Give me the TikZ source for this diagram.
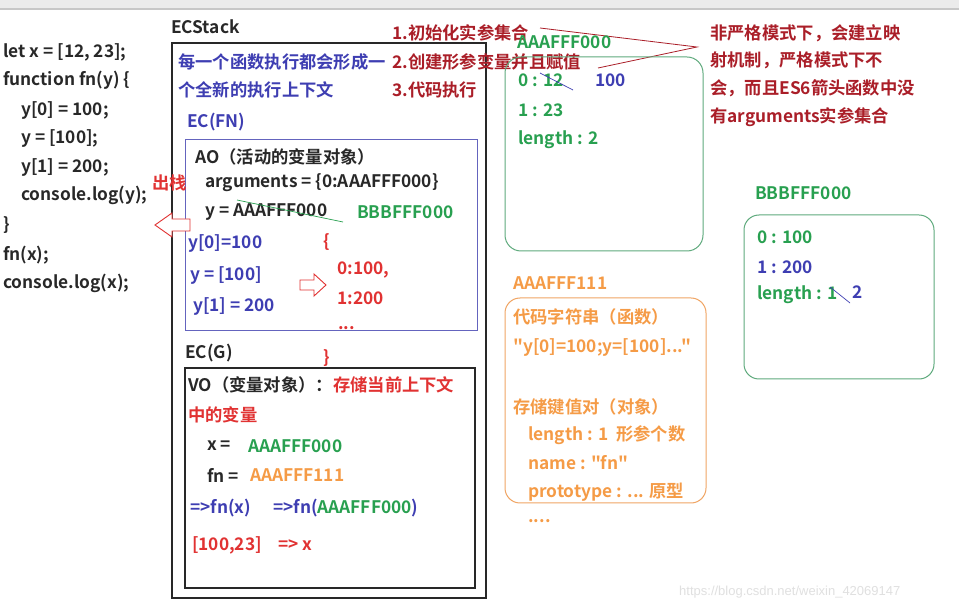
\documentclass[tikz,border=0pt]{standalone}
\usepackage{fontspec}
\newfontfamily\mainf{Noto Sans CJK SC}[BoldFont={Noto Sans CJK SC Bold}]
\newfontfamily\wmfont{Liberation Sans}
\definecolor{cblue}{RGB}{62,62,178}
\definecolor{cgreen}{RGB}{40,160,80}
\definecolor{cdred}{RGB}{170,30,40}
\definecolor{cred}{RGB}{225,50,50}
\definecolor{corange}{RGB}{245,155,70}
\definecolor{cgbox}{RGB}{95,170,125}
\definecolor{cobox}{RGB}{240,165,100}
\definecolor{caobox}{RGB}{100,100,190}
\definecolor{cdark}{RGB}{40,40,40}
\newcommand\bodyfs{\mainf\fontsize{17.3}{20}\selectfont\bfseries}
\begin{document}
\begin{tikzpicture}[x=1pt,y=-1pt,
  txt/.style={anchor=west,inner sep=0pt,font=\bodyfs,text=cdark},
  boxline/.style={draw=cdark,line width=1.1pt},
  aoline/.style={draw=caobox,line width=0.9pt},
  gbox/.style={draw=cgbox,line width=1pt,rounded corners=16pt},
  obox/.style={draw=cobox,line width=1pt,rounded corners=16pt},
  hollow/.style={draw=cred,line width=0.9pt,fill=white},
  strike/.style={line width=0.7pt}]
\useasboundingbox (0,0) rectangle (959,609);
\fill[white] (0,0) rectangle (959,609);
\fill[black!8] (0,0) rectangle (959,10);
\draw[black!22,line width=1.5pt] (0,9) -- (959,9);

% code
\node[txt] (c1) at (3,52) {let x = [12, 23];};
\node[txt] (c2) at (3,80) {function fn(y) \{};
\node[txt] (c3) at (21,110) {y[0] = 100;};
\node[txt] (c4) at (21,138) {y = [100];};
\node[txt] (c5) at (21,167) {y[1] = 200;};
\node[txt] (c6) at (21,195) {console.log(y);};
\node[txt] (c7) at (3,225) {\}};
\node[txt] (c8) at (3,255) {fn(x);};
\node[txt] (c9) at (3,283) {console.log(x);};

% ECStack
\node[txt] (ecs) at (171,27) {ECStack};
\draw[boxline] (172,43) rectangle (486,598);
\node[txt,text=cblue] (d1) at (178,62) {每一个函数执行都会形成一};
\node[txt,text=cblue] (d2) at (178,90) {个全新的执行上下文};
\node[txt,text=cblue] (ecfn) at (187,122) {EC(FN)};

% AO box
\draw[aoline] (185,139) rectangle (477,330);
\node[txt] (ao) at (195,157) {AO（活动的变量对象）};
\node[txt] (args) at (205,183) {arguments = \{0:AAAFFF000\}};
\node[txt] (yv) at (205,212) {y = AAAFFF000};
\coordinate (s1a) at (237,200);
\coordinate (s1b) at (343,222);
\draw[strike,cgreen] (s1a) -- (s1b);
\node[txt,text=cgreen] (ybb) at (357,212) {BBBFFF000};
\node[txt,text=cblue] (y0) at (188,243) {y[0]=100};
\node[txt,text=cblue] (y1) at (190,275) {y = [100]};
\node[txt,text=cblue] (y2) at (193,306) {y[1] = 200};
\node[txt,text=cred] (ob1) at (323,242) {\{};
\node[txt,text=cred] (ob2) at (337,270) {0:100,};
\node[txt,text=cred] (ob3) at (337,298) {1:200};
\node[txt,text=cred] (ob4) at (338,328) {...};
\node[txt,text=cred] (ob5) at (323,358) {\}};
\draw[hollow] (300,280) -- (314,280) -- (314,274) -- (326,285) -- (314,296) -- (314,290) -- (300,290) -- cycle;

% pop arrow
\node[txt,text=cred] (pop) at (152,183) {出栈};
\draw[hollow] (155,225) -- (172,213) -- (172,219) -- (190,219) -- (190,231) -- (172,231) -- (172,237) -- cycle;

% EC(G)
\node[txt] (ecg) at (185,353) {EC(G)};
\draw[boxline] (185,368) rectangle (475,588);
\node[txt] (vo) at (188,385) {VO（变量对象）：\textcolor{cred}{存储当前上下文}};
\node[txt,text=cred] (vo2) at (188,415) {中的变量};
\node[txt] (gx) at (207,446) {x =};
\node[txt,text=cgreen] (gxv) at (248,446) {AAAFFF000};
\node[txt] (gfn) at (207,475) {fn =};
\node[txt,text=corange] (gfnv) at (250,475) {AAAFFF111};
\node[txt,text=cblue] (call1) at (190,508) {=>fn(x)};
\node[txt,text=cblue] (call2) at (273,508) {=>fn(\textcolor{cgreen}{AAAFFF000})};
\node[txt,text=cred] (res1) at (192,545) {[100,23]};
\node[txt,text=cred] (res2) at (278,545) {=> x};

% steps
\node[txt,text=cdred] (st1) at (392,33) {1.初始化实参集合};
\node[txt,text=cdred] (st2) at (392,62) {2.创建形参变量并且赋值};
\node[txt,text=cdred] (st3) at (392,90) {3.代码执行};
\coordinate (pa) at (540,28);
\coordinate (pt) at (697,47);
\coordinate (pb) at (598,68);
\draw[cdred,line width=0.8pt] (pa) -- (pt) -- (pb);

% note
\node[txt,text=cdred] (n1) at (710,33) {非严格模式下，会建立映};
\node[txt,text=cdred] (n2) at (710,60) {射机制，严格模式下不};
\node[txt,text=cdred] (n3) at (710,88) {会，而且ES6箭头函数中没};
\node[txt,text=cdred] (n4) at (710,117) {有arguments实参集合};

% AAAFFF000 heap
\node[txt,text=cgreen] (h1) at (517,42) {AAAFFF000};
\draw[gbox] (505,57) rectangle (703,251);
\node[txt,text=cgreen] (h1a) at (518,80) {0 : 12};
\coordinate (s2a) at (540,73);
\coordinate (s2b) at (573,90);
\draw[strike,cblue] (s2a) -- (s2b);
\node[txt,text=cblue] (h1n) at (595,80) {100};
\node[txt,text=cgreen] (h1b) at (518,110) {1 : 23};
\node[txt,text=cgreen] (h1c) at (518,140) {length : 2};

% BBBFFF000 heap
\node[txt,text=cgreen] (h2) at (755,193) {BBBFFF000};
\draw[gbox,rounded corners=15pt] (744,215) rectangle (934,379);
\node[txt,text=cgreen] (h2a) at (757,237) {0 : 100};
\node[txt,text=cblue] (h2b) at (757,267) {1 : 200};
\node[txt,text=cgreen] (h2c) at (757,295) {length : 1};
\coordinate (s3a) at (830,287);
\coordinate (s3b) at (850,303);
\draw[strike,cblue] (s3a) -- (s3b);
\node[txt,text=cblue] (h2n) at (852,292) {2};

% AAAFFF111 heap
\node[txt,text=corange] (h3) at (513,283) {AAAFFF111};
\draw[obox,rounded corners=15pt] (505,298) rectangle (706,503);
\node[txt,text=corange] (h3a) at (513,317) {代码字符串（函数）};
\node[txt,text=corange] (h3b) at (513,347) {"y[0]=100;y=[100]..."};
\node[txt,text=corange] (h3c) at (513,407) {存储键值对（对象）};
\node[txt,text=corange] (h3d) at (528,435) {length : 1\ \ 形参个数};
\node[txt,text=corange] (h3e) at (528,463) {name : "fn"};
\node[txt,text=corange] (h3f) at (528,492) {prototype : ... 原型};
\node[txt,text=corange] (h3g) at (528,521) {....};

% watermark
\node[anchor=west,inner sep=0pt,font=\wmfont\fontsize{13}{15}\selectfont,text=black!12] (wm) at (679,592) {https://blog.csdn.net/weixin\_42069147};
\end{tikzpicture}
\end{document}
